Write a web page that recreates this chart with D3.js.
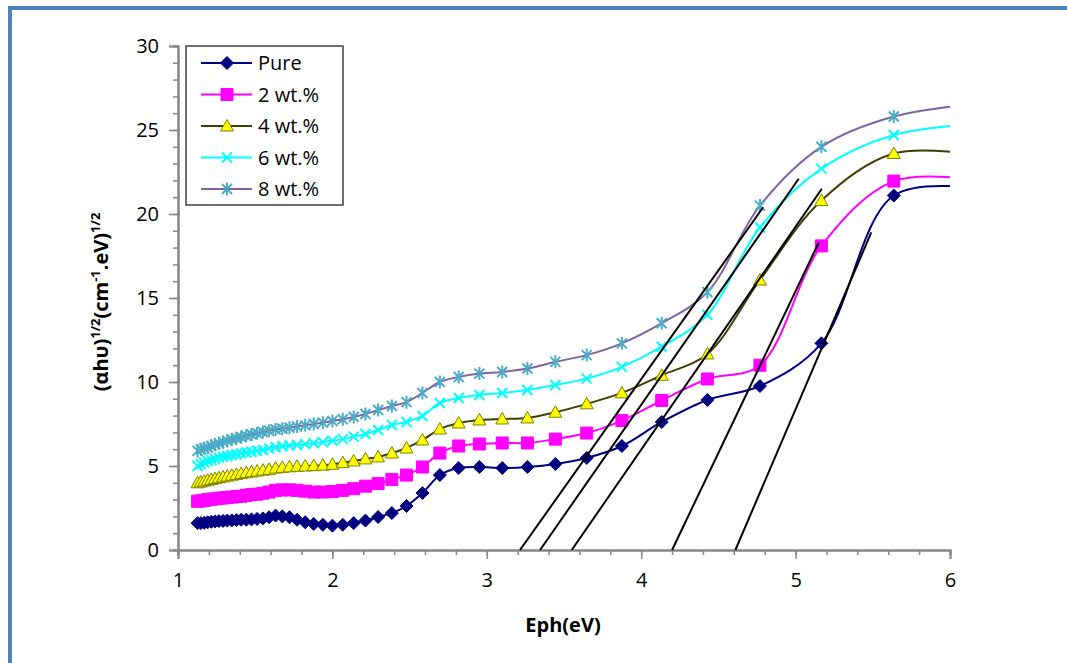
<!DOCTYPE html>
<html>
<head>
<meta charset="utf-8">
<script src="https://cdn.jsdelivr.net/npm/d3@7"></script>
<style>
  body { margin: 0; background: #fff; }
  text { font-family: "Open Sans", Lato, sans-serif; }
</style>
</head>
<body>
<div id="box"></div>
<script>
// photon energies (eV), one per wavelength step
const eph = [1.127, 1.148, 1.170, 1.192, 1.216, 1.240, 1.265, 1.292, 1.319, 1.348,
  1.378, 1.409, 1.442, 1.476, 1.512, 1.550, 1.590, 1.632, 1.676, 1.722,
  1.771, 1.824, 1.879, 1.938, 2.000, 2.067, 2.138, 2.214, 2.296, 2.385,
  2.480, 2.583, 2.696, 2.818, 2.952, 3.100, 3.263, 3.444, 3.647, 3.875,
  4.133, 4.429, 4.769, 5.167, 5.636, 6.200];

const pure = [1.6, 1.6, 1.62, 1.65, 1.68, 1.7, 1.72, 1.73, 1.75, 1.76,
  1.78, 1.8, 1.8, 1.82, 1.85, 1.88, 1.95, 2.05, 2.0, 1.95,
  1.8, 1.65, 1.55, 1.5, 1.45, 1.5, 1.6, 1.75, 1.96, 2.2,
  2.62, 3.39, 4.46, 4.88, 4.94, 4.88, 4.94, 5.12, 5.48, 6.19,
  7.62, 8.93, 9.76, 12.3, 21.1, 21.5];

const wt2 = [2.9, 2.92, 2.95, 3.0, 3.02, 3.05, 3.08, 3.1, 3.12, 3.15,
  3.18, 3.2, 3.25, 3.3, 3.32, 3.38, 3.45, 3.55, 3.58, 3.58,
  3.55, 3.5, 3.45, 3.45, 3.48, 3.55, 3.65, 3.8, 3.95, 4.2,
  4.46, 4.94, 5.77, 6.19, 6.31, 6.37, 6.37, 6.6, 6.96, 7.7,
  8.9, 10.18, 11.0, 18.1, 21.96, 22.0];

const wt4 = [4.0, 4.05, 4.1, 4.15, 4.2, 4.25, 4.3, 4.35, 4.4, 4.45,
  4.5, 4.55, 4.6, 4.65, 4.7, 4.75, 4.8, 4.88, 4.92, 4.95,
  4.98, 5.0, 5.02, 5.05, 5.1, 5.2, 5.3, 5.42, 5.54, 5.77,
  6.07, 6.55, 7.2, 7.56, 7.74, 7.8, 7.86, 8.2, 8.7, 9.35,
  10.4, 11.67, 16.07, 20.8, 23.6, 23.5];

const wt6 = [5.0, 5.1, 5.2, 5.3, 5.35, 5.42, 5.5, 5.55, 5.6, 5.65,
  5.7, 5.75, 5.8, 5.85, 5.9, 5.95, 6.05, 6.12, 6.18, 6.22,
  6.25, 6.3, 6.35, 6.42, 6.5, 6.6, 6.75, 6.9, 7.14, 7.44,
  7.62, 7.98, 8.75, 9.05, 9.23, 9.35, 9.52, 9.82, 10.2, 10.9,
  12.1, 14.0, 19.2, 22.7, 24.7, 25.4];

const wt8 = [5.9, 6.0, 6.05, 6.1, 6.2, 6.28, 6.35, 6.42, 6.5, 6.58,
  6.65, 6.72, 6.8, 6.88, 6.95, 7.02, 7.1, 7.18, 7.22, 7.28,
  7.35, 7.42, 7.5, 7.58, 7.68, 7.78, 7.92, 8.1, 8.33, 8.57,
  8.8, 9.35, 10.0, 10.3, 10.5, 10.6, 10.8, 11.2, 11.6, 12.3,
  13.5, 15.35, 20.5, 24.0, 25.8, 26.6];

const seriesNames = ['Pure', '2 wt.%', '4 wt.%', '6 wt.%', '8 wt.%'];

// Tauc extrapolation lines: [x0, y0, x1, y1]
const tangents = [
  [3.215, 0, 4.79, 20.4],
  [3.345, 0, 5.02, 22.1],
  [3.55, 0, 5.17, 21.5],
  [4.20, 0, 5.15, 18.3],
  [4.61, 0, 5.49, 18.9]
];

const yMajor = [0, 5, 10, 15, 20, 25, 30];
const xMajor = [1, 2, 3, 4, 5, 6];

const width = 1067, height = 663;
const padLeft = 178, padRight = 950, padTop = 46, padBottom = 550;

const styles = [
  { line: '#000080', fill: '#000080', stroke: '#000080', shape: 'diamond' },
  { line: '#FF00FF', fill: '#FF00FF', stroke: '#FF00FF', shape: 'square' },
  { line: '#3F3F00', fill: '#FFFF00', stroke: '#808000', shape: 'triangle' },
  { line: '#00FFFF', fill: 'none', stroke: '#00FFFF', shape: 'x' },
  { line: '#8064A2', fill: 'none', stroke: '#4BACC6', shape: 'star' }
];

const shapes = {
  diamond: 'M0,-6.5L6.5,0L0,6.5L-6.5,0Z',
  square: 'M-6,-6h12v12h-12Z',
  triangle: 'M0,-6.5L6.5,5L-6.5,5Z',
  x: 'M-5,-5L5,5M-5,5L5,-5',
  star: 'M-5,-5L5,5M-5,5L5,-5M0,-6.5L0,6.5'
};

const svg = d3.select('#box').append('svg')
  .attr('width', width)
  .attr('height', height);

// blue outer frame
svg.append('rect')
  .attr('x', 10).attr('y', 8)
  .attr('width', 1200).attr('height', 800)
  .style('fill', 'none')
  .style('stroke', '#4F81BD')
  .style('stroke-width', 4);

const x = d3.scaleLinear().domain([1, 6]).range([padLeft, padRight]);
const y = d3.scaleLinear().domain([0, 30]).range([padBottom, padTop]);

svg.append('defs').append('clipPath').attr('id', 'clip')
  .append('rect')
  .attr('x', padLeft).attr('y', padTop - 10)
  .attr('width', padRight - padLeft).attr('height', padBottom - padTop + 10);

// axes: minor ticks first, then major with labels
const axisColor = '#868686';

const yMinor = svg.append('g')
  .attr('transform', `translate(${padLeft},0)`)
  .call(d3.axisLeft(y).tickValues(d3.range(0, 31, 1)).tickSize(5).tickFormat(''));
const yAxis = svg.append('g')
  .attr('transform', `translate(${padLeft},0)`)
  .call(d3.axisLeft(y).tickValues(yMajor).tickSize(9).tickPadding(8).tickFormat(d3.format('d')));

const xMinor = svg.append('g')
  .attr('transform', `translate(0,${padBottom})`)
  .call(d3.axisBottom(x).tickValues(d3.range(1, 6.01, 0.2)).tickSize(5).tickFormat(''));
const xAxis = svg.append('g')
  .attr('transform', `translate(0,${padBottom})`)
  .call(d3.axisBottom(x).tickValues(xMajor).tickSize(9).tickPadding(14).tickFormat(d3.format('d')));

[yMinor, yAxis, xMinor, xAxis].forEach(g => {
  g.selectAll('path.domain').style('stroke', axisColor).style('stroke-width', 2);
  g.selectAll('line').style('stroke', axisColor).style('stroke-width', 1.5);
  g.selectAll('text').style('font-size', '20px').style('fill', '#000');
});
yAxis.selectAll('text').attr('dx', '-2');

// series
const all = [pure, wt2, wt4, wt6, wt8];
const plot = svg.append('g').attr('clip-path', 'url(#clip)');

const line = d3.line()
  .x(d => x(d[0]))
  .y(d => y(d[1]))
  .curve(d3.curveCatmullRom.alpha(0.5));

all.forEach((vals, i) => {
  const pts = eph.map((e, j) => [e, vals[j]]);
  const st = styles[i];
  plot.append('path')
    .datum(pts)
    .attr('d', line)
    .style('fill', 'none')
    .style('stroke', st.line)
    .style('stroke-width', 2);
  plot.selectAll('.m' + i)
    .data(pts)
    .join('path')
    .attr('class', 'm' + i)
    .attr('d', shapes[st.shape])
    .attr('transform', d => `translate(${x(d[0])},${y(d[1])})`)
    .style('fill', st.fill)
    .style('stroke', st.stroke)
    .style('stroke-width', st.shape === 'x' || st.shape === 'star' ? 2 : 1);
});

// extrapolation lines
svg.selectAll('.tangent')
  .data(tangents)
  .join('line')
  .attr('class', 'tangent')
  .attr('x1', d => x(d[0]))
  .attr('y1', d => y(d[1]))
  .attr('x2', d => x(d[2]))
  .attr('y2', d => y(d[3]))
  .style('stroke', '#000')
  .style('stroke-width', 2);

// axis titles
svg.append('text')
  .attr('x', (padLeft + padRight) / 2 - 1)
  .attr('y', 632)
  .attr('text-anchor', 'middle')
  .style('font-size', '20px')
  .style('font-weight', 'bold')
  .text('Eph(eV)');

const yt = svg.append('text')
  .attr('transform', `translate(108,${(padTop + padBottom) / 2 + 4}) rotate(-90)`)
  .attr('text-anchor', 'middle')
  .style('font-size', '20px')
  .style('font-weight', 'bold');
yt.append('tspan').text('(αhυ)');
yt.append('tspan').attr('dy', -8).style('font-size', '13px').text('1/2');
yt.append('tspan').attr('dy', 8).text('(cm');
yt.append('tspan').attr('dy', -8).style('font-size', '13px').text('-1');
yt.append('tspan').attr('dy', 8).text('.eV)');
yt.append('tspan').attr('dy', -8).style('font-size', '13px').text('1/2');

// legend
const lg = svg.append('g').attr('transform', 'translate(186,46)');
lg.append('rect')
  .attr('width', 157).attr('height', 159)
  .style('fill', '#fff')
  .style('stroke', '#404040')
  .style('stroke-width', 1.5);

seriesNames.forEach((name, i) => {
  const st = styles[i];
  const row = lg.append('g').attr('transform', `translate(0,${17 + i * 31.5})`);
  row.append('line')
    .attr('x1', 15).attr('x2', 66)
    .style('stroke', st.line)
    .style('stroke-width', 2);
  row.append('path')
    .attr('d', shapes[st.shape])
    .attr('transform', 'translate(41,0)')
    .style('fill', st.fill)
    .style('stroke', st.stroke)
    .style('stroke-width', st.shape === 'x' || st.shape === 'star' ? 2 : 1);
  row.append('text')
    .attr('x', 72).attr('y', 7)
    .style('font-size', '20px')
    .text(name);
});
</script>
</body>
</html>
